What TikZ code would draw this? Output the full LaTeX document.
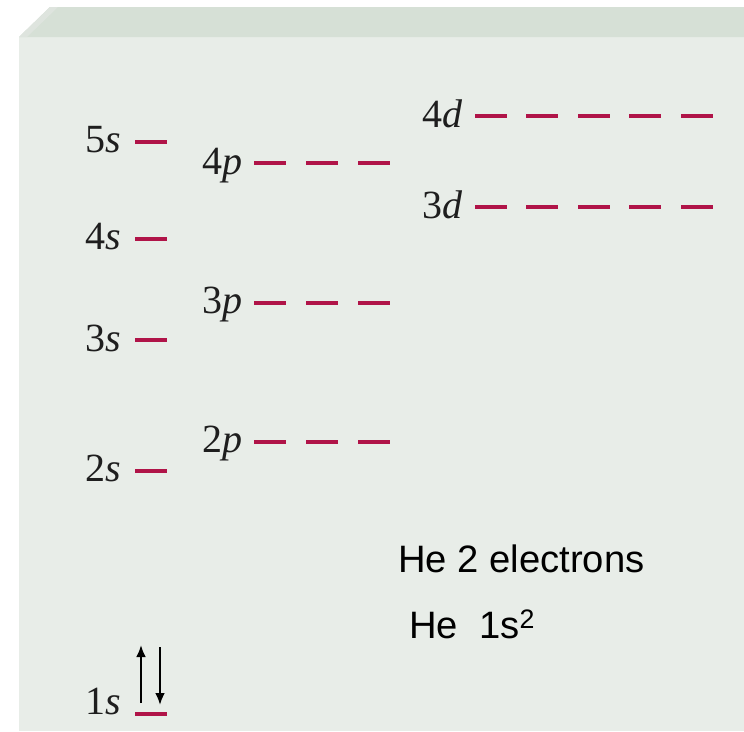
\documentclass[tikz,border=0pt]{standalone}
\usepackage{fontspec}
\setmainfont{Liberation Serif}
\newfontfamily\arialfont{Liberation Sans}
\usetikzlibrary{arrows.meta}
\definecolor{panel}{RGB}{232,237,232}
\definecolor{bevel}{RGB}{214,224,214}
\definecolor{bevelside}{RGB}{222,228,222}
\definecolor{lvl}{RGB}{176,20,72}
\definecolor{lbl}{RGB}{30,30,30}
\tikzset{
  orb/.style={anchor=base east, inner sep=0pt, text=lbl, font=\fontsize{40}{44}\selectfont},
  lev/.style={draw=lvl, line width=4pt},
  spin/.style={draw=black, line width=2.6pt, -{Latex[length=12pt,width=10pt]}},
  note/.style={anchor=base west, inner sep=0pt, font=\arialfont\fontsize{38.2}{42}\selectfont}
}
\begin{document}
\begin{tikzpicture}[x=1pt,y=-1pt]
\useasboundingbox (0,0) rectangle (744,731);
\fill[white] (0,0) rectangle (744,731);
\fill[panel] (19,37) rectangle (744,731);
\fill[bevel] (19,37) -- (50,7) -- (744,7) -- (744,37) -- cycle;
\fill[bevelside] (19,37) -- (50,7) -- (58,7) -- (27,37) -- cycle;
% s levels
\node[orb] (s5) at (121,152) {5\textit{s}};
\node[orb] (s4) at (121,249) {4\textit{s}};
\node[orb] (s3) at (121,351) {3\textit{s}};
\node[orb] (s2) at (121,481) {2\textit{s}};
\node[orb] (s1) at (121,714) {1\textit{s}};
\foreach \y in {142,239,340,471,714}{\draw[lev] (135,\y) -- (167,\y);}
% p levels
\node[orb] (p4) at (243,174) {4\textit{p}};
\node[orb] (p3) at (243,313) {3\textit{p}};
\node[orb] (p2) at (243,452) {2\textit{p}};
\foreach \y in {163,303,442}{
  \foreach \x in {254,306,358}{\draw[lev] (\x,\y) -- ++(32,0);}
}
% d levels
\node[orb] (d4) at (463,127) {4\textit{d}};
\node[orb] (d3) at (463,218) {3\textit{d}};
\foreach \y in {116,207}{
  \foreach \x in {475,526,578,629,681}{\draw[lev] (\x,\y) -- ++(32,0);}
}
% electrons in 1s
\coordinate (u0) at (141,703);
\coordinate (u1) at (141,645);
\coordinate (d0) at (160,647);
\coordinate (d1) at (160,705);
\draw[spin] (u0) -- (u1);
\draw[spin] (d0) -- (d1);
% notes
\node[note] (n1) at (398,572) {He 2 electrons};
\node[note] (n2) at (409,638) {He\ \ 1s\textsuperscript{2}};
\end{tikzpicture}
\end{document}
